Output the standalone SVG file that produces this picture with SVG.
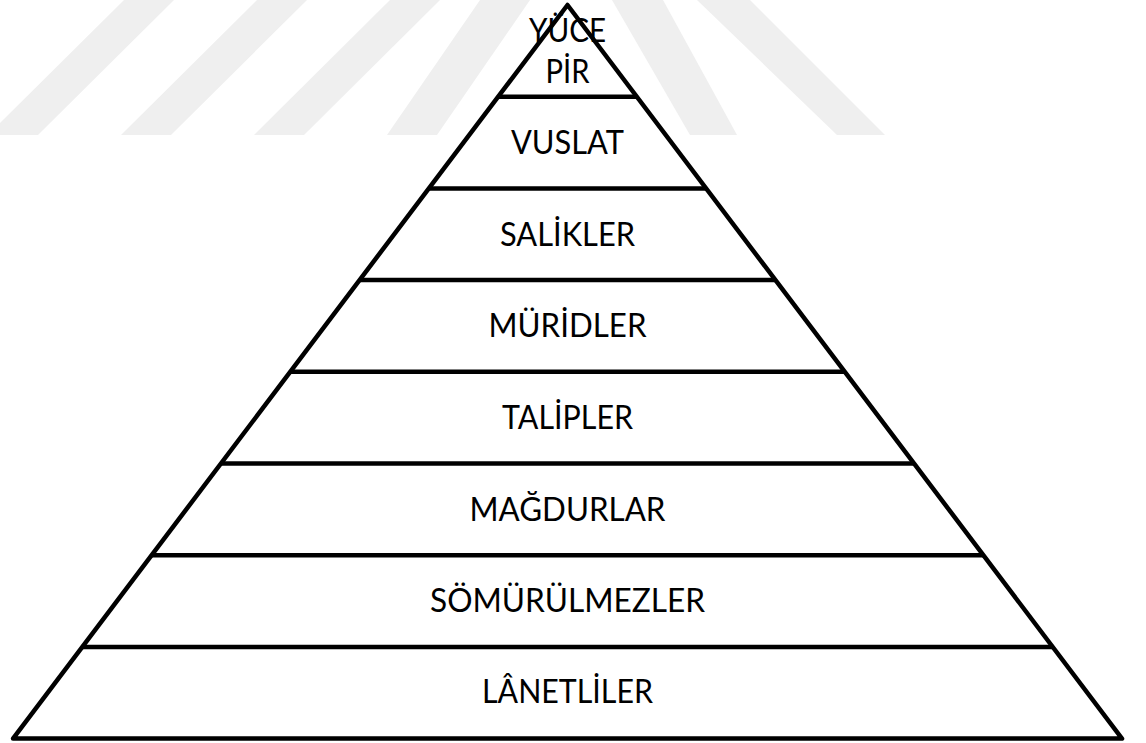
<svg xmlns="http://www.w3.org/2000/svg" width="1146" height="743" viewBox="0 0 1146 743">
  <style>
    .stripe { fill: #efefef; }
    .outline { fill: #ffffff; stroke: #000000; stroke-width: 4.5; stroke-linejoin: round; }
    .divider { stroke: #000000; stroke-width: 4.5; fill: none; }
    .label { font-family: "Lato", "Liberation Sans", sans-serif; font-size: 32px; fill: #000000; text-anchor: middle; }
  </style>
  <rect width="1146" height="743" fill="#ffffff"/>
  <g id="watermark">
    <polygon class="stripe" points="124,0 174,0 38,135 -12,135"/>
    <polygon class="stripe" points="257,0 307,0 171,135 121,135"/>
    <polygon class="stripe" points="390,0 440,0 304,135 254,135"/>
    <polygon class="stripe" points="480,0 530,0 437,135 387,135"/>
    <polygon class="stripe" points="612,0 663,0 737,135 690,135"/>
    <polygon class="stripe" points="697,0 750,0 885,135 837,135"/>
  </g>
  <g id="pyramid">
    <polygon class="outline" points="567.5,5 1122,738.6 13,738.6"/>
  </g>
  <g id="level-1">
    <text class="label" x="567.5" y="42" textLength="77" lengthAdjust="spacingAndGlyphs">YÜCE</text>
    <text class="label" x="567.5" y="83" textLength="44" lengthAdjust="spacingAndGlyphs">PİR</text>
  </g>
  <g id="level-2">
    <line class="divider" x1="498.2" y1="96.7" x2="636.8" y2="96.7"/>
    <text class="label" x="567.5" y="154" textLength="113" lengthAdjust="spacingAndGlyphs">VUSLAT</text>
  </g>
  <g id="level-3">
    <line class="divider" x1="428.9" y1="188.4" x2="706.1" y2="188.4"/>
    <text class="label" x="567.5" y="246" textLength="135" lengthAdjust="spacingAndGlyphs">SALİKLER</text>
  </g>
  <g id="level-4">
    <line class="divider" x1="359.5" y1="280.1" x2="775.5" y2="280.1"/>
    <text class="label" x="567.5" y="337" textLength="158" lengthAdjust="spacingAndGlyphs">MÜRİDLER</text>
  </g>
  <g id="level-5">
    <line class="divider" x1="290.2" y1="371.8" x2="844.8" y2="371.8"/>
    <text class="label" x="567.5" y="429" textLength="131" lengthAdjust="spacingAndGlyphs">TALİPLER</text>
  </g>
  <g id="level-6">
    <line class="divider" x1="220.9" y1="463.5" x2="914.1" y2="463.5"/>
    <text class="label" x="567.5" y="521" textLength="196" lengthAdjust="spacingAndGlyphs">MAĞDURLAR</text>
  </g>
  <g id="level-7">
    <line class="divider" x1="151.6" y1="555.2" x2="983.4" y2="555.2"/>
    <text class="label" x="567.5" y="612" textLength="275" lengthAdjust="spacingAndGlyphs">SÖMÜRÜLMEZLER</text>
  </g>
  <g id="level-8">
    <line class="divider" x1="82.3" y1="646.9" x2="1052.7" y2="646.9"/>
    <text class="label" x="567.5" y="703" textLength="171" lengthAdjust="spacingAndGlyphs">LÂNETLİLER</text>
  </g>
  <g id="connectors"/>
</svg>
